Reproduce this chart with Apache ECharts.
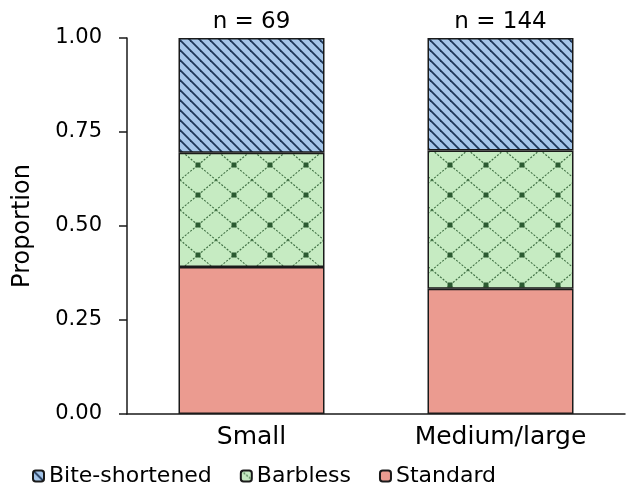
<!DOCTYPE html>
<html>
<head>
<meta charset="utf-8">
<script src="https://cdn.jsdelivr.net/npm/echarts@6/dist/echarts.min.js"></script>
<style>
  html, body { margin: 0; padding: 0; background: #fff; }
  #chart { width: 626px; height: 491px; }
</style>
</head>
<body>
<div id="chart"></div>
<script>
// 数据
const categories = ['Small', 'Medium/large'];
const sampleSizes = [69, 144];
const standard = [0.391, 0.333];
const barbless = [0.304, 0.368];
const biteShortened = [0.305, 0.299];
const yTicks = [0, 0.25, 0.5, 0.75, 1];

const FONT = 'DejaVu Sans';

// 斜线填充（Bite-shortened）
function makeHatch() {
  const c = document.createElement('canvas');
  const s = 10;
  c.width = s; c.height = s;
  const ctx = c.getContext('2d');
  ctx.fillStyle = '#a5c6ea';
  ctx.fillRect(0, 0, s, s);
  ctx.strokeStyle = '#1d3658';
  ctx.lineWidth = 1.8;
  for (let k = -1; k <= 1; k++) {
    ctx.beginPath();
    ctx.moveTo(k * s - 1, -1);
    ctx.lineTo(k * s + s + 1, s + 1);
    ctx.stroke();
  }
  return c;
}

// 菱形虚线网格 + 点（Barbless）
function makeDiamond() {
  const c = document.createElement('canvas');
  const w = 36, h = 30;
  c.width = w; c.height = h;
  const ctx = c.getContext('2d');
  ctx.fillStyle = '#c6ebc2';
  ctx.fillRect(0, 0, w, h);
  ctx.strokeStyle = '#3f6f43';
  ctx.lineWidth = 1.1;
  ctx.setLineDash([2, 1.5]);
  ctx.beginPath();
  ctx.moveTo(0, 0); ctx.lineTo(w, h);
  ctx.moveTo(w, 0); ctx.lineTo(0, h);
  ctx.stroke();
  ctx.fillStyle = '#2b5a31';
  ctx.fillRect(w / 2 - 2.5, h / 2 - 2.5, 5, 5);
  return c;
}

const hatch = { image: makeHatch(), repeat: 'repeat' };
const diamond = { image: makeDiamond(), repeat: 'repeat' };
const salmon = '#eb9b90';

const barStyle = (color) => ({
  color: color,
  borderColor: '#1a1a1a',
  borderWidth: 1.5
});

const chart = echarts.init(document.getElementById('chart'));

const option = {
  animation: false,
  textStyle: { fontFamily: FONT, color: '#000' },
  grid: {
    left: 127,
    right: 1,
    top: 38,
    bottom: 77
  },
  legend: {
    left: 32,
    top: 465,
    padding: 0,
    itemWidth: 11,
    itemHeight: 11,
    itemGap: 28,
    selectedMode: false,
    textStyle: { fontFamily: FONT, fontSize: 22, color: '#000' },
    data: ['Bite-shortened', 'Barbless', 'Standard']
  },
  xAxis: {
    type: 'category',
    data: categories,
    axisLine: { lineStyle: { color: '#1a1a1a', width: 1.5 } },
    axisTick: { alignWithLabel: true, length: 6, lineStyle: { color: '#1a1a1a', width: 1.5 } },
    axisLabel: { fontFamily: FONT, fontSize: 25, color: '#000', margin: 11 }
  },
  yAxis: {
    type: 'value',
    min: yTicks[0],
    max: yTicks[yTicks.length - 1],
    interval: 0.25,
    name: 'Proportion',
    nameLocation: 'middle',
    nameGap: 92,
    nameTextStyle: { fontFamily: FONT, fontSize: 24, color: '#000' },
    splitLine: { show: false },
    axisLine: { show: true, lineStyle: { color: '#1a1a1a', width: 1.5 } },
    axisTick: { show: true, length: 8, lineStyle: { color: '#1a1a1a', width: 1.5 } },
    axisLabel: {
      fontFamily: FONT,
      fontSize: 21,
      color: '#000',
      margin: 25,
      formatter: (v) => v.toFixed(2)
    }
  },
  series: [
    {
      name: 'Standard',
      type: 'bar',
      stack: 'total',
      barWidth: 146,
      data: standard,
      itemStyle: barStyle(salmon)
    },
    {
      name: 'Barbless',
      type: 'bar',
      stack: 'total',
      barWidth: 146,
      data: barbless,
      itemStyle: barStyle(diamond)
    },
    {
      name: 'Bite-shortened',
      type: 'bar',
      stack: 'total',
      barWidth: 146,
      data: biteShortened,
      itemStyle: barStyle(hatch),
      label: {
        show: true,
        position: 'top',
        distance: 4,
        fontFamily: FONT,
        fontSize: 23,
        color: '#000',
        formatter: (p) => 'n = ' + sampleSizes[p.dataIndex]
      }
    }
  ]
};

chart.setOption(option);
</script>
</body>
</html>
